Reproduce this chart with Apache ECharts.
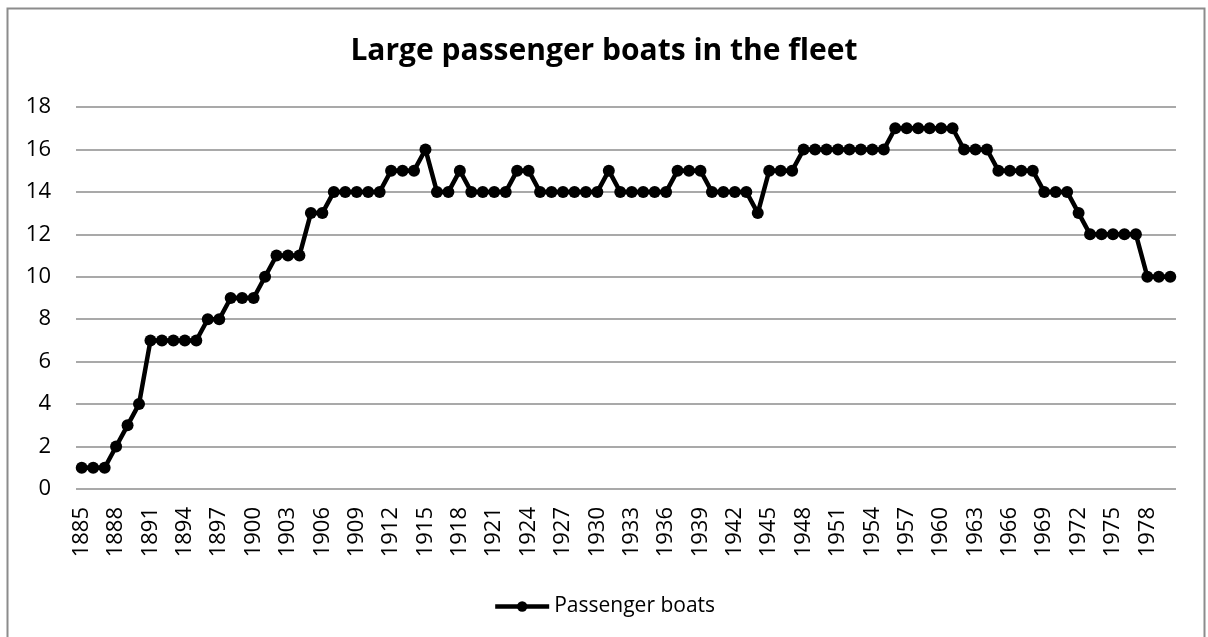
<!DOCTYPE html>
<html>
<head>
<meta charset="utf-8">
<title>Large passenger boats in the fleet</title>
<script src="https://cdn.jsdelivr.net/npm/echarts@6/dist/echarts.min.js"></script>
<style>
    html, body { margin: 0; padding: 0; background: #fff; }
    #chart { width: 1208px; height: 637px; }
</style>
</head>
<body>
<div id="chart"></div>
<script>
// years 1885 .. 1980
var years = [
    1885, 1886, 1887, 1888, 1889, 1890, 1891, 1892, 1893, 1894,
    1895, 1896, 1897, 1898, 1899, 1900, 1901, 1902, 1903, 1904,
    1905, 1906, 1907, 1908, 1909, 1910, 1911, 1912, 1913, 1914,
    1915, 1916, 1917, 1918, 1919, 1920, 1921, 1922, 1923, 1924,
    1925, 1926, 1927, 1928, 1929, 1930, 1931, 1932, 1933, 1934,
    1935, 1936, 1937, 1938, 1939, 1940, 1941, 1942, 1943, 1944,
    1945, 1946, 1947, 1948, 1949, 1950, 1951, 1952, 1953, 1954,
    1955, 1956, 1957, 1958, 1959, 1960, 1961, 1962, 1963, 1964,
    1965, 1966, 1967, 1968, 1969, 1970, 1971, 1972, 1973, 1974,
    1975, 1976, 1977, 1978, 1979, 1980
];
var passengerBoats = [
    1, 1, 1, 2, 3, 4, 7, 7, 7, 7,
    7, 8, 8, 9, 9, 9, 10, 11, 11, 11,
    13, 13, 14, 14, 14, 14, 14, 15, 15, 15,
    16, 14, 14, 15, 14, 14, 14, 14, 15, 15,
    14, 14, 14, 14, 14, 14, 15, 14, 14, 14,
    14, 14, 15, 15, 15, 14, 14, 14, 14, 13,
    15, 15, 15, 16, 16, 16, 16, 16, 16, 16,
    16, 17, 17, 17, 17, 17, 17, 16, 16, 16,
    15, 15, 15, 15, 14, 14, 14, 13, 12, 12,
    12, 12, 12, 10, 10, 10
];
var yTicks = { min: 0, max: 18, interval: 2 };

var chart = echarts.init(document.getElementById('chart'), null, { renderer: 'canvas' });
var font = '"Open Sans", sans-serif';

chart.setOption({
    backgroundColor: '#fff',
    animation: false,
    graphic: [{
        type: 'rect',
        shape: { x: 7.5, y: 8.5, width: 1197, height: 700 },
        style: { fill: 'none', stroke: '#8c8c8c', lineWidth: 2 },
        z: -1
    }],
    title: {
        text: 'Large passenger boats in the fleet',
        left: 'center',
        top: 31,
        textStyle: { fontFamily: font, fontSize: 30, fontWeight: 'bold', color: '#000' }
    },
    legend: {
        bottom: 15,
        left: 'center',
        itemWidth: 54,
        itemHeight: 13,
        itemGap: 6,
        lineStyle: { width: 4.5 },
        textStyle: { fontFamily: font, fontSize: 21, color: '#000' },
        data: ['Passenger boats']
    },
    grid: { left: 76, right: 32, top: 107, bottom: 148, containLabel: false },
    xAxis: {
        type: 'category',
        data: years,
        boundaryGap: true,
        axisLine: { show: false },
        axisTick: { show: false },
        axisLabel: {
            interval: 2,
            rotate: 90,
            margin: 18,
            color: '#000',
            fontFamily: font,
            fontSize: 22
        },
        splitLine: { show: false }
    },
    yAxis: {
        type: 'value',
        min: yTicks.min,
        max: yTicks.max,
        interval: yTicks.interval,
        axisLine: { show: false },
        axisTick: { show: false },
        axisLabel: { color: '#000', fontFamily: font, fontSize: 22, margin: 25 },
        splitLine: { lineStyle: { color: '#8c8c8c', width: 1.5 } }
    },
    series: [{
        name: 'Passenger boats',
        type: 'line',
        data: passengerBoats,
        symbol: 'circle',
        symbolSize: 12,
        showAllSymbol: true,
        lineStyle: { color: '#000', width: 4.5 },
        itemStyle: { color: '#000' }
    }]
});
</script>
</body>
</html>
